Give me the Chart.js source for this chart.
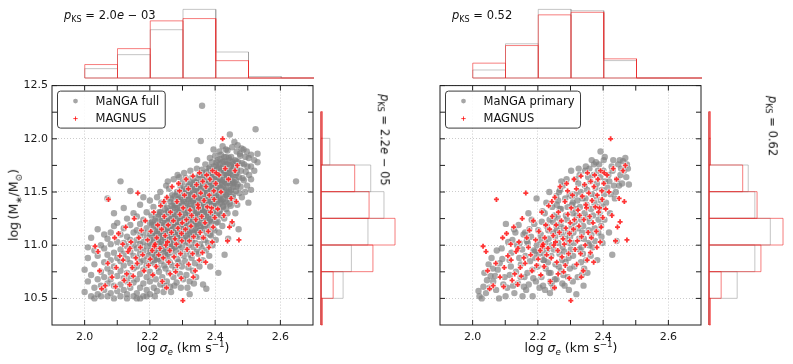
<!DOCTYPE html>
<html>
<head>
<meta charset="utf-8">
<script src="https://cdn.jsdelivr.net/npm/chart.js@4.4.1/dist/chart.umd.min.js"></script>
<style>
  html, body { margin: 0; padding: 0; background: #fff; }
  #fig { position: relative; width: 793px; height: 364px; overflow: hidden;
         font-family: 'DejaVu Sans', sans-serif; color: #111; }
  #fig canvas { position: absolute; }
  .lbl { position: absolute; white-space: nowrap; line-height: 1; font-size: 12.5px; }
  .lbl sub, .lbl sup { font-size: 70%; line-height: 0; }
  .it { font-style: italic; }
  .pks { font-size: 11.5px; }
</style>
</head>
<body>
<div id="fig">
  <canvas id="histTopL" width="320" height="80" style="left:0;top:0"></canvas>
  <canvas id="histTopR" width="308" height="80" style="left:400px;top:0"></canvas>
  <canvas id="mainL" width="320" height="289" style="left:0;top:75px"></canvas>
  <canvas id="mainR" width="308" height="289" style="left:400px;top:75px"></canvas>
  <canvas id="histSideL" width="84" height="289" style="left:316px;top:75px"></canvas>
  <canvas id="histSideR" width="84" height="289" style="left:704px;top:75px"></canvas>

  <div class="lbl" style="left:14px;top:205px;transform:translate(-50%,-50%) rotate(-90deg)">log&thinsp;(M<sub>∗</sub>/M<sub>⊙</sub>)</div>
  <div class="lbl" style="left:183px;top:348px;transform:translate(-50%,-50%)">log <span class="it">σ</span><sub class="it">e</sub> (km s<sup>−1</sup>)</div>
  <div class="lbl" style="left:571px;top:348px;transform:translate(-50%,-50%)">log <span class="it">σ</span><sub class="it">e</sub> (km s<sup>−1</sup>)</div>

  <div class="lbl pks" style="left:64px;top:10px"><span class="it">p</span><sub>KS</sub> = 2.0<span class="it">e</span> − 03</div>
  <div class="lbl pks" style="left:452px;top:10px"><span class="it">p</span><sub>KS</sub> = 0.52</div>
  <div class="lbl pks" style="left:384px;top:140px;transform:translate(-50%,-50%) rotate(90deg)"><span class="it">p</span><sub>KS</sub> = 2.2<span class="it">e</span> − 05</div>
  <div class="lbl pks" style="left:772px;top:126px;transform:translate(-50%,-50%) rotate(90deg)"><span class="it">p</span><sub>KS</sub> = 0.62</div>
</div>

<script>
// ---------- data ----------
// axis ticks
const xTickVals = [2.0, 2.1, 2.2, 2.3, 2.4, 2.5, 2.6];
const yTickVals = [10.5, 10.75, 11.0, 11.25, 11.5, 11.75, 12.0, 12.25, 12.5];

// histogram bin edges
const sigmaEdges = [2.0, 2.1, 2.2, 2.3, 2.4, 2.5, 2.6, 2.7];
const massEdges = [10.25, 10.5, 10.75, 11.0, 11.25, 11.5, 11.75, 12.0, 12.25];

// normalised histograms (density)
const fullSigmaHist = [0.53, 1.32, 2.73, 3.88, 1.47, 0.08, 0];
const primarySigmaHist = [0.41, 1.75, 3.51, 3.44, 0.89, 0, 0];
const magnusSigmaHist = [0.76, 1.66, 3.23, 3.36, 0.98, 0, 0];
const fullMassHist = [0, 0.40, 0.55, 0.85, 1.14, 0.90, 0.16, 0.004];
const primaryMassHist = [0, 0.51, 0.83, 1.11, 0.83, 0.71, 0.02, 0];
const magnusMassHist = [0.027, 0.22, 0.94, 1.34, 0.87, 0.61, 0.027, 0.027];

// scatter: [log sigma_e, log M*] -- full MaNGA sample, outskirts
const mangaFull = [
  [2.00,10.56],[2.00,10.77],[2.01,10.66],[2.01,10.88],[2.02,10.52],[2.02,11.07],[2.02,10.72],[2.03,10.60],[2.03,10.95],[2.03,10.82],
  [2.04,10.54],[2.04,10.68],[2.04,11.15],[2.04,10.90],[2.05,10.62],[2.05,10.75],[2.05,11.00],[2.01,10.98],[2.03,10.50],[2.05,10.52],
  [2.06,10.58],[2.06,10.70],[2.06,10.84],[2.06,10.97],[2.07,10.52],[2.07,10.64],[2.07,10.78],[2.07,10.91],[2.07,11.06],[2.07,11.44],
  [2.08,10.55],[2.08,10.68],[2.08,10.74],[2.08,10.86],[2.08,11.01],[2.08,11.12],[2.09,10.50],[2.09,10.62],[2.09,10.80],[2.09,10.93],
  [2.09,11.18],[2.10,10.57],[2.10,10.71],[2.10,10.88],[2.10,11.03],[2.10,11.21],[2.06,11.10],[2.09,11.30],
  [2.11,10.52],[2.11,10.63],[2.11,10.76],[2.11,10.85],[2.11,10.96],[2.11,11.10],[2.11,11.60],[2.12,10.58],[2.12,10.69],[2.12,10.81],
  [2.12,10.92],[2.12,11.02],[2.12,11.16],[2.13,10.54],[2.13,10.66],[2.13,10.74],[2.13,10.87],[2.13,10.99],[2.13,11.08],[2.13,11.25],
  [2.14,10.60],[2.14,10.71],[2.14,10.83],[2.14,10.94],[2.14,11.05],[2.14,11.19],[2.14,11.51],[2.15,10.52],[2.15,10.65],[2.15,10.78],
  [2.15,10.90],[2.15,11.00],[2.15,11.12],[2.15,11.30],[2.12,11.35],[2.13,10.50],
  [2.16,10.55],[2.16,10.68],[2.16,10.80],[2.16,10.88],[2.16,10.97],[2.16,11.05],[2.16,11.14],[2.16,11.27],[2.17,10.60],[2.17,10.73],
  [2.17,10.84],[2.17,10.92],[2.17,11.01],[2.17,11.09],[2.17,11.20],[2.17,11.38],[2.18,10.52],[2.18,10.64],[2.18,10.77],[2.18,10.86],
  [2.18,10.95],[2.18,11.03],[2.18,11.12],[2.18,11.24],[2.19,10.58],[2.19,10.70],[2.19,10.81],[2.19,10.90],[2.19,10.99],[2.19,11.07],
  [2.19,11.16],[2.19,11.31],[2.20,10.54],[2.20,10.66],[2.20,10.75],[2.20,10.85],[2.20,10.94],[2.20,11.02],[2.20,11.11],[2.20,11.21],
  [2.20,11.42],[2.16,10.50],[2.18,11.45],[2.17,10.50],[2.19,10.52],
  [2.212,10.60],[2.208,10.72],[2.211,10.83],[2.206,10.91],[2.213,10.98],[2.209,11.05],[2.214,11.13],[2.207,11.22],[2.211,11.36],
  [2.222,10.57],[2.218,10.68],[2.224,10.79],[2.217,10.88],[2.221,10.95],[2.226,11.02],[2.219,11.09],[2.223,11.17],[2.218,11.27],[2.222,11.45],
  [2.232,10.63],[2.228,10.75],[2.234,10.85],[2.229,10.92],[2.233,10.99],[2.227,11.06],[2.231,11.13],[2.236,11.21],[2.229,11.31],[2.232,11.50],
  [2.242,10.56],[2.238,10.70],[2.244,10.81],[2.239,10.89],[2.243,10.96],[2.237,11.03],[2.241,11.10],[2.246,11.18],[2.239,11.26],[2.242,11.39],
  [2.252,10.66],[2.248,10.78],[2.254,10.87],[2.249,10.94],[2.253,11.00],[2.247,11.07],[2.251,11.14],[2.256,11.22],[2.249,11.30],[2.252,11.44],
  [2.250,11.56],[2.215,10.52],[2.235,11.40],[2.245,10.62],[2.205,11.28],
  [2.262,10.61],[2.258,10.74],[2.261,10.84],[2.256,10.92],[2.263,10.99],[2.259,11.05],[2.264,11.11],[2.257,11.17],[2.261,11.24],[2.258,11.32],
  [2.263,11.41],[2.259,11.53],[2.272,10.70],[2.268,10.81],[2.274,10.90],[2.269,10.97],[2.273,11.03],[2.267,11.09],[2.271,11.15],[2.276,11.21],
  [2.269,11.28],[2.272,11.35],[2.268,11.47],[2.273,11.62],[2.282,10.65],[2.278,10.77],[2.284,10.87],[2.279,10.95],[2.283,11.01],[2.277,11.07],
  [2.281,11.13],[2.286,11.19],[2.279,11.25],[2.282,11.31],[2.278,11.38],[2.283,11.50],[2.292,10.73],[2.288,10.84],[2.294,10.93],[2.289,11.00],
  [2.293,11.06],[2.287,11.12],[2.291,11.18],[2.296,11.24],[2.289,11.30],[2.292,11.36],[2.288,11.43],[2.293,11.56],[2.290,11.64],
  [2.302,10.68],[2.298,10.80],[2.304,10.90],[2.299,10.98],[2.303,11.04],[2.297,11.10],[2.301,11.16],[2.306,11.22],[2.299,11.28],[2.302,11.34],
  [2.298,11.40],[2.303,11.47],[2.300,11.59],[2.265,10.56],[2.285,11.66],[2.275,10.62],[2.295,10.60],[2.255,11.60],
  [2.312,10.72],[2.308,10.85],[2.314,10.95],[2.309,11.03],[2.313,11.09],[2.307,11.15],[2.311,11.21],[2.316,11.27],[2.309,11.33],[2.312,11.39],
  [2.308,11.45],[2.313,11.52],[2.310,11.63],[2.322,10.66],[2.318,10.79],[2.324,10.91],[2.319,11.00],[2.323,11.07],[2.317,11.13],[2.321,11.19],
  [2.326,11.25],[2.319,11.31],[2.322,11.37],[2.318,11.43],[2.323,11.49],[2.320,11.57],[2.324,11.70],[2.332,10.76],[2.328,10.88],[2.334,10.98],
  [2.329,11.05],[2.333,11.11],[2.327,11.17],[2.331,11.23],[2.336,11.29],[2.329,11.35],[2.332,11.41],[2.328,11.47],[2.333,11.54],[2.330,11.64],
  [2.342,10.70],[2.338,10.83],[2.344,10.94],[2.339,11.02],[2.343,11.09],[2.337,11.15],[2.341,11.21],[2.346,11.27],[2.339,11.33],[2.342,11.39],
  [2.338,11.45],[2.343,11.51],[2.340,11.59],[2.344,11.72],[2.352,10.80],[2.348,10.92],[2.354,11.01],[2.349,11.08],[2.353,11.14],[2.347,11.20],
  [2.351,11.26],[2.356,11.32],[2.349,11.38],[2.352,11.44],[2.348,11.50],[2.353,11.56],[2.350,11.66],[2.322,10.54],[2.305,11.68],[2.345,11.80],
  [2.315,10.60],[2.335,10.64],
  [2.362,10.86],[2.358,10.98],[2.364,11.07],[2.359,11.14],[2.363,11.20],[2.357,11.26],[2.361,11.32],[2.366,11.38],[2.359,11.44],[2.362,11.50],
  [2.358,11.56],[2.363,11.62],[2.360,11.71],[2.356,11.98],[2.360,12.31],[2.372,10.95],[2.368,11.05],[2.374,11.12],[2.369,11.18],[2.373,11.24],
  [2.367,11.30],[2.371,11.36],[2.376,11.42],[2.369,11.48],[2.372,11.54],[2.368,11.60],[2.373,11.66],[2.370,11.76],[2.373,10.59],
  [2.382,10.90],[2.378,11.02],[2.384,11.10],[2.379,11.17],[2.383,11.23],[2.377,11.29],[2.381,11.35],[2.386,11.41],[2.379,11.47],[2.382,11.53],
  [2.378,11.59],[2.383,11.65],[2.380,11.72],[2.384,11.82],[2.392,11.00],[2.388,11.09],[2.394,11.16],[2.389,11.22],[2.393,11.28],[2.387,11.34],
  [2.391,11.40],[2.396,11.46],[2.389,11.52],[2.392,11.58],[2.388,11.64],[2.393,11.70],[2.390,11.78],[2.402,11.05],[2.398,11.14],[2.404,11.21],
  [2.399,11.27],[2.403,11.33],[2.397,11.39],[2.401,11.45],[2.406,11.51],[2.399,11.57],[2.402,11.63],[2.398,11.69],[2.403,11.75],[2.400,11.84],
  [2.363,10.63],[2.410,10.74],[2.385,10.80],[2.395,11.90],
  [2.412,11.12],[2.408,11.22],[2.414,11.30],[2.409,11.37],[2.413,11.43],[2.407,11.49],[2.411,11.55],[2.416,11.61],[2.409,11.67],[2.412,11.73],
  [2.408,11.80],[2.413,11.88],[2.422,11.18],[2.418,11.28],[2.424,11.36],[2.419,11.42],[2.423,11.48],[2.417,11.54],[2.421,11.60],[2.426,11.66],
  [2.419,11.72],[2.422,11.78],[2.418,11.85],[2.423,11.93],[2.429,10.91],[2.428,11.25],[2.434,11.34],[2.429,11.41],[2.433,11.47],[2.427,11.53],
  [2.431,11.59],[2.436,11.65],[2.429,11.71],[2.432,11.77],[2.428,11.83],[2.433,11.90],[2.440,11.06],[2.438,11.30],[2.444,11.39],[2.439,11.46],
  [2.443,11.52],[2.437,11.58],[2.441,11.64],[2.446,11.70],[2.439,11.76],[2.442,11.82],[2.438,11.89],[2.445,12.04],[2.452,11.20],[2.448,11.37],
  [2.454,11.45],[2.449,11.52],[2.453,11.58],[2.447,11.64],[2.451,11.70],[2.456,11.76],[2.449,11.83],[2.452,11.92],
  [2.462,11.30],[2.458,11.42],[2.464,11.51],[2.459,11.59],[2.463,11.66],[2.457,11.73],[2.461,11.80],[2.466,11.88],[2.459,11.97],
  [2.472,11.15],[2.468,11.38],[2.474,11.49],[2.469,11.57],[2.473,11.64],[2.467,11.71],[2.471,11.78],[2.476,11.86],[2.469,11.94],
  [2.482,11.45],[2.478,11.55],[2.484,11.63],[2.479,11.70],[2.483,11.77],[2.477,11.84],[2.481,11.91],
  [2.492,11.50],[2.488,11.61],[2.494,11.69],[2.489,11.76],[2.493,11.83],[2.487,11.90],
  [2.502,11.40],[2.498,11.56],[2.504,11.66],[2.499,11.74],[2.503,11.82],[2.497,11.88],
  [2.51,11.62],[2.51,11.74],[2.51,11.85],[2.52,11.70],[2.52,11.80],[2.524,12.09],[2.53,11.78],[2.53,11.86],[2.51,11.52],[2.648,11.60]
];

// full MaNGA sample, the crowded ridge of the relation
const mangaFullCore = [
  [2.205,10.88],[2.204,10.95],[2.206,11.00],[2.203,11.07],[2.205,11.12],[2.207,11.19],
  [2.215,10.86],[2.216,10.93],[2.214,10.99],[2.215,11.04],[2.217,11.11],[2.213,11.18],[2.216,11.23],
  [2.225,10.87],[2.224,10.92],[2.227,10.99],[2.225,11.04],[2.223,11.10],[2.226,11.15],[2.224,11.22],[2.226,11.29],
  [2.235,10.89],[2.236,10.96],[2.233,11.01],[2.235,11.08],[2.237,11.13],[2.234,11.19],[2.236,11.26],[2.233,11.31],
  [2.245,10.90],[2.244,10.97],[2.246,11.04],[2.243,11.09],[2.245,11.15],[2.247,11.22],[2.244,11.27],[2.246,11.34],
  [2.255,10.93],[2.256,11.00],[2.254,11.05],[2.255,11.12],[2.257,11.17],[2.253,11.23],[2.256,11.30],[2.254,11.35],
  [2.265,10.96],[2.264,11.01],[2.266,11.08],[2.263,11.13],[2.265,11.19],[2.267,11.26],[2.264,11.31],[2.266,11.37],[2.264,11.44],
  [2.275,10.98],[2.276,11.05],[2.274,11.10],[2.275,11.17],[2.277,11.22],[2.273,11.28],[2.276,11.35],[2.274,11.40],[2.276,11.46],
  [2.285,11.00],[2.284,11.07],[2.286,11.12],[2.283,11.18],[2.285,11.25],[2.287,11.30],[2.284,11.36],[2.286,11.43],[2.284,11.48],
  [2.295,11.04],[2.296,11.09],[2.294,11.15],[2.295,11.22],[2.297,11.27],[2.293,11.33],[2.296,11.40],[2.294,11.45],[2.296,11.52],
  [2.305,11.05],[2.304,11.12],[2.306,11.17],[2.303,11.23],[2.305,11.30],[2.307,11.35],[2.304,11.41],[2.306,11.48],[2.304,11.53],
  [2.315,11.07],[2.316,11.14],[2.314,11.19],[2.315,11.25],[2.317,11.32],[2.313,11.37],[2.316,11.43],[2.314,11.50],[2.316,11.55],
  [2.325,11.10],[2.324,11.16],[2.326,11.23],[2.323,11.28],[2.325,11.34],[2.327,11.41],[2.324,11.46],[2.326,11.52],[2.324,11.59],
  [2.335,11.12],[2.336,11.19],[2.334,11.24],[2.335,11.30],[2.337,11.37],[2.333,11.42],[2.336,11.48],[2.334,11.55],[2.336,11.60],
  [2.345,11.14],[2.344,11.20],[2.346,11.27],[2.343,11.32],[2.345,11.38],[2.347,11.45],[2.344,11.50],[2.346,11.56],[2.344,11.63],
  [2.355,11.17],[2.356,11.23],[2.354,11.30],[2.355,11.35],[2.357,11.41],[2.353,11.48],[2.356,11.53],[2.354,11.59],[2.356,11.66],
  [2.365,11.19],[2.364,11.25],[2.366,11.32],[2.363,11.37],[2.365,11.43],[2.367,11.50],[2.364,11.55],[2.366,11.61],[2.364,11.68],
  [2.375,11.21],[2.376,11.28],[2.374,11.33],[2.375,11.39],[2.377,11.46],[2.373,11.51],[2.376,11.57],[2.374,11.64],[2.376,11.69],
  [2.385,11.24],[2.384,11.30],[2.386,11.37],[2.383,11.42],[2.385,11.48],[2.387,11.55],[2.384,11.60],[2.386,11.66],[2.384,11.73],
  [2.395,11.26],[2.396,11.33],[2.394,11.38],[2.395,11.44],[2.397,11.51],[2.393,11.56],[2.396,11.62],[2.394,11.69],[2.396,11.74],
  [2.405,11.29],[2.404,11.35],[2.406,11.42],[2.403,11.47],[2.405,11.53],[2.407,11.60],[2.404,11.65],[2.406,11.71],[2.404,11.78],
  [2.415,11.33],[2.416,11.40],[2.414,11.45],[2.415,11.51],[2.417,11.58],[2.413,11.63],[2.416,11.69],[2.414,11.76],[2.416,11.81],
  [2.425,11.37],[2.424,11.43],[2.426,11.50],[2.423,11.55],[2.425,11.61],[2.427,11.68],[2.424,11.73],[2.426,11.79],
  [2.435,11.40],[2.436,11.47],[2.434,11.52],[2.435,11.58],[2.437,11.65],[2.433,11.70],[2.436,11.76],[2.434,11.83],
  [2.445,11.44],[2.444,11.50],[2.446,11.57],[2.443,11.62],[2.445,11.68],[2.447,11.75],[2.444,11.80],
  [2.455,11.48],[2.456,11.55],[2.454,11.60],[2.455,11.66],[2.457,11.73],[2.453,11.78],
  [2.465,11.55],[2.464,11.61],[2.466,11.68],[2.463,11.73],[2.465,11.79]
];

// MaNGA primary sample
const mangaPrimary = [
  [2.021,10.52],[2.028,10.50],[2.033,10.61],[2.018,10.57],[2.044,10.67],[2.052,10.60],[2.036,10.74],[2.049,10.82],[2.041,10.55],[2.055,10.71],
  [2.063,10.66],[2.072,10.58],[2.081,10.50],[2.069,10.71],[2.083,10.83],[2.058,10.88],[2.094,10.63],[2.101,10.52],[2.089,10.97],[2.102,11.20],
  [2.077,10.77],[2.098,10.70],[2.074,10.95],[2.091,10.87],[2.062,10.78],[2.106,10.60],
  [2.113,10.86],[2.109,11.03],[2.124,10.62],[2.119,10.93],[2.127,11.15],[2.133,10.75],[2.128,10.55],[2.136,11.00],[2.143,10.88],[2.139,10.64],
  [2.147,10.70],[2.152,10.96],[2.148,10.82],[2.156,11.10],[2.122,11.05],[2.114,10.72],[2.131,11.12],[2.144,11.02],[2.153,10.52],[2.117,10.80],
  [2.157,10.61],[2.141,11.19],
  [2.162,10.90],[2.166,11.04],[2.159,10.70],[2.172,10.63],[2.176,10.85],[2.169,11.02],[2.174,11.15],[2.183,10.77],[2.187,10.95],[2.179,11.08],
  [2.184,10.52],[2.192,10.88],[2.197,11.00],[2.189,11.20],[2.194,10.66],[2.196,11.44],[2.203,10.92],[2.207,11.05],[2.199,10.80],[2.205,10.60],
  [2.161,11.12],[2.181,11.24],[2.168,10.74],[2.191,10.94],[2.164,10.58],[2.201,11.14],[2.186,10.69],[2.171,11.30],
  [2.213,10.98],[2.209,11.10],[2.217,10.86],[2.211,10.70],[2.216,10.62],[2.223,11.02],[2.227,11.18],[2.219,10.92],[2.224,10.78],[2.221,11.30],
  [2.233,11.06],[2.229,10.96],[2.236,11.24],[2.231,10.84],[2.238,10.66],[2.237,10.55],[2.243,11.00],[2.247,11.12],[2.241,10.90],[2.244,11.36],
  [2.239,10.74],[2.253,11.08],[2.257,11.18],[2.249,10.96],[2.254,10.82],[2.251,11.28],[2.256,11.46],[2.222,10.58],[2.232,11.14],[2.212,11.22],
  [2.246,11.22],[2.252,10.68],[2.226,11.40],[2.234,10.74],[2.214,11.32],[2.258,11.38],[2.242,10.64],[2.235,11.50],[2.218,10.86],[2.248,10.60],
  [2.263,11.02],[2.259,11.14],[2.266,10.92],[2.261,11.26],[2.264,10.80],[2.262,11.42],[2.273,11.10],[2.269,11.20],[2.276,10.98],[2.271,11.34],
  [2.274,10.86],[2.268,11.52],[2.283,11.06],[2.279,11.16],[2.286,11.28],[2.281,10.94],[2.284,11.44],[2.278,10.72],[2.293,11.12],[2.289,11.24],
  [2.296,11.02],[2.291,11.36],[2.294,10.88],[2.288,11.62],[2.303,11.18],[2.299,11.08],[2.306,11.30],[2.301,10.96],[2.304,11.46],[2.298,10.78],
  [2.302,11.70],[2.282,10.62],[2.257,10.68],[2.272,11.60],[2.292,10.70],[2.307,10.66],[2.277,11.56],[2.267,11.34],[2.271,10.76],[2.297,11.48],
  [2.285,10.84],[2.305,11.38],[2.265,11.50],[2.295,10.58],[2.275,10.64],
  [2.313,11.22],[2.309,11.12],[2.316,11.34],[2.311,11.02],[2.314,11.48],[2.308,10.90],[2.323,11.16],[2.319,11.28],[2.326,11.06],[2.321,11.42],
  [2.318,10.54],[2.324,11.58],[2.333,11.24],[2.329,11.36],[2.336,11.12],[2.331,11.50],[2.334,10.98],[2.328,11.66],[2.343,11.30],[2.339,11.18],
  [2.346,11.44],[2.341,11.06],[2.344,11.56],[2.338,10.92],[2.353,11.26],[2.349,11.38],[2.356,11.14],[2.351,11.52],[2.354,11.64],[2.348,10.86],
  [2.352,10.74],[2.312,10.80],[2.322,10.70],[2.332,10.84],[2.342,10.78],[2.325,11.72],[2.315,11.62],[2.335,10.72],[2.345,11.70],[2.355,11.02],
  [2.307,11.40],[2.327,10.96],[2.337,11.44],[2.347,11.74],[2.340,10.62],
  [2.363,11.34],[2.359,11.22],[2.366,11.48],[2.361,11.60],[2.364,11.10],[2.358,11.72],[2.373,11.40],[2.369,11.28],[2.376,11.54],[2.371,11.66],
  [2.374,11.16],[2.368,10.98],[2.383,11.36],[2.379,11.46],[2.386,11.24],[2.381,11.58],[2.384,11.70],[2.378,11.78],[2.393,11.42],[2.389,11.30],
  [2.396,11.52],[2.391,11.64],[2.394,11.18],[2.388,11.76],[2.403,11.48],[2.399,11.36],[2.406,11.60],[2.401,11.70],[2.404,11.24],[2.398,11.02],
  [2.365,11.80],[2.375,11.04],[2.385,11.12],[2.395,11.08],[2.402,11.80],[2.362,10.90],[2.382,10.86],[2.372,11.76],[2.392,11.88],[2.357,11.00],
  [2.405,11.83],[2.413,11.54],[2.409,11.40],[2.416,11.66],[2.423,11.48],[2.419,11.60],[2.426,11.74],[2.421,11.30],[2.428,10.91],[2.433,11.56],
  [2.429,11.70],[2.436,11.44],[2.431,11.80],[2.443,11.62],[2.439,11.50],[2.446,11.76],[2.453,11.66],[2.449,11.56],[2.451,11.80],[2.441,11.04],
  [2.418,11.12],[2.455,11.72],
  [2.461,11.79],[2.464,11.70],[2.471,11.64],[2.468,11.82],[2.479,11.57],[2.476,11.72],[2.458,11.58],[2.473,11.76]
];

// MAGNUS sample (same in both panels)
const magnus = [
  [2.032,10.99],[2.041,10.94],[2.046,10.76],[2.052,10.59],[2.063,10.62],[2.073,11.43],[2.071,10.83],[2.084,10.70],[2.092,11.07],[2.097,10.79],
  [2.095,10.61],
  [2.104,11.11],[2.108,10.90],[2.117,11.01],[2.121,10.67],[2.118,10.86],[2.126,11.17],[2.133,10.94],[2.129,10.73],[2.138,10.63],[2.142,11.03],
  [2.146,10.79],[2.139,10.97],[2.152,11.25],[2.157,10.88],[2.149,10.71],[2.163,11.49],[2.166,11.07],[2.161,10.83],[2.174,11.14],[2.171,10.98],
  [2.182,10.76],[2.186,11.23],[2.178,10.91],[2.193,11.05],[2.196,10.81],
  [2.203,11.13],[2.207,10.95],[2.201,10.87],[2.212,11.31],[2.216,11.01],[2.209,10.72],[2.224,11.19],[2.221,11.07],[2.227,10.91],[2.219,10.80],
  [2.233,11.37],[2.236,11.15],[2.231,10.97],[2.238,10.66],[2.244,11.27],[2.247,11.09],[2.241,10.88],[2.249,11.00],[2.252,11.45],[2.256,11.19],
  [2.254,11.03],[2.258,10.84],[2.251,10.60],[2.263,11.31],[2.266,11.12],[2.261,10.95],[2.268,11.55],[2.272,11.23],[2.277,11.06],[2.274,10.89],
  [2.279,10.75],[2.283,11.41],[2.286,11.16],[2.281,11.01],[2.288,11.58],[2.284,10.81],[2.292,11.29],[2.297,11.11],[2.294,10.92],[2.291,11.51],
  [2.296,10.69],[2.302,11.35],[2.299,11.21],[2.298,11.04],[2.301,10.48],[2.262,10.73],[2.243,11.41],[2.214,10.99],
  [2.306,11.47],[2.312,11.24],[2.309,11.15],[2.314,10.96],[2.311,11.62],[2.318,11.53],[2.323,11.33],[2.326,11.18],[2.321,11.04],[2.319,10.82],
  [2.332,11.65],[2.336,11.46],[2.328,11.28],[2.334,11.08],[2.331,10.92],[2.343,11.57],[2.347,11.38],[2.341,11.24],[2.345,11.00],[2.339,10.76],
  [2.352,11.68],[2.356,11.49],[2.349,11.35],[2.354,11.12],[2.351,10.86],[2.362,11.60],[2.366,11.42],[2.359,11.27],[2.364,11.07],[2.361,10.93],
  [2.372,11.55],[2.376,11.36],[2.369,11.21],[2.374,11.66],[2.371,10.84],[2.382,11.47],[2.386,11.31],[2.379,11.13],[2.384,11.62],[2.381,10.98],
  [2.392,11.70],[2.396,11.51],[2.389,11.35],[2.394,11.17],[2.391,11.03],[2.402,11.58],[2.397,11.43],[2.399,11.26],[2.403,11.68],[2.333,10.70],
  [2.412,11.66],[2.408,11.34],[2.423,12.00],[2.418,11.50],[2.431,11.72],[2.427,11.28],[2.441,11.62],[2.444,11.17],[2.438,11.04],[2.452,11.22],
  [2.449,11.44],[2.461,11.70],[2.468,11.75],[2.465,11.41],[2.473,11.05]
];

// ---------- helpers ----------
Chart.defaults.font.family = "'DejaVu Sans', sans-serif";
const FONT = { family: "'DejaVu Sans', sans-serif", size: 11 };
const TICK_LEN = 5;

const toXY = arr => arr.map(p => ({ x: p[0], y: p[1] }));
const isMajorX = v => Math.round(v * 10) % 2 === 0;
const isMajorY = v => Math.round(v * 4) % 2 === 0;

// outline of an unfilled bar histogram: every bar edge plus the baseline
function histOutline(edges, heights, horizontal) {
  const pts = [[edges[0], 0]];
  heights.forEach((h, i) => {
    pts.push([edges[i], h], [edges[i + 1], h], [edges[i + 1], 0]);
  });
  pts.push([edges[0], 0]);
  return pts.map(p => horizontal ? { x: p[1], y: p[0] } : { x: p[0], y: p[1] });
}

// box + inward ticks on all four sides
const framePlugin = {
  id: 'frame',
  afterDraw(chart) {
    const { ctx, chartArea: a, scales: { x, y } } = chart;
    ctx.save();
    ctx.strokeStyle = '#1f1f1f';
    ctx.lineWidth = 1;
    ctx.strokeRect(a.left, a.top, a.width, a.height);
    ctx.beginPath();
    xTickVals.forEach(v => {
      const px = x.getPixelForValue(v);
      ctx.moveTo(px, a.bottom); ctx.lineTo(px, a.bottom - TICK_LEN);
      ctx.moveTo(px, a.top); ctx.lineTo(px, a.top + TICK_LEN);
    });
    yTickVals.forEach(v => {
      const py = y.getPixelForValue(v);
      ctx.moveTo(a.left, py); ctx.lineTo(a.left + TICK_LEN, py);
      ctx.moveTo(a.right, py); ctx.lineTo(a.right - TICK_LEN, py);
    });
    ctx.stroke();
    ctx.restore();
  }
};

// framed legend in the upper-left corner of the axes
const boxLegend = {
  id: 'boxLegend',
  afterDraw(chart, args, opts) {
    const { ctx, chartArea: a } = chart;
    const items = opts.items || [];
    ctx.save();
    ctx.font = "11.5px 'DejaVu Sans'";
    const textW = Math.max(...items.map(it => ctx.measureText(it.text).width));
    const bx = a.left + 5.5, by = a.top + 5.5;
    const bw = 38 + textW + 6, bh = 37;
    ctx.beginPath();
    ctx.roundRect(bx, by, bw, bh, 3);
    ctx.fillStyle = 'rgba(255,255,255,0.85)';
    ctx.fill();
    ctx.strokeStyle = '#3c3c3c';
    ctx.lineWidth = 1;
    ctx.stroke();
    items.forEach((it, i) => {
      const cy = by + 10 + i * 17.5;
      const mx = bx + 18;
      ctx.fillStyle = it.fill || 'transparent';
      ctx.strokeStyle = it.stroke || 'transparent';
      Chart.helpers.drawPoint(ctx, { pointStyle: it.style, radius: it.radius, borderWidth: it.bw, rotation: 0 }, mx, cy);
      ctx.fillStyle = '#111';
      ctx.textBaseline = 'middle';
      ctx.fillText(it.text, bx + 38, cy + 0.5);
    });
    ctx.restore();
  }
};

function mainChart(id, grayPts, grayLabel, showYLabels, yAxisWidth) {
  return new Chart(document.getElementById(id), {
    type: 'scatter',
    data: {
      datasets: [
        { label: 'MAGNUS', data: toXY(magnus), pointStyle: 'cross', pointRadius: 2.5,
          borderWidth: 1.8, borderColor: 'rgba(255,10,10,0.82)', backgroundColor: 'rgba(255,10,10,0.82)' },
        { label: 'edge', data: toXY(magnus), pointStyle: 'cross', pointRadius: 3.2,
          borderWidth: 3.0, borderColor: 'rgba(255,255,255,0.75)', backgroundColor: 'rgba(255,255,255,0.75)' },
        { label: grayLabel, data: toXY(grayPts), pointRadius: 3.2, borderWidth: 0,
          backgroundColor: 'rgba(128,128,128,0.68)' }
      ]
    },
    options: {
      responsive: false,
      animation: false,
      events: [],
      layout: { padding: { top: 10, right: 6, bottom: 0, left: 0 } },
      plugins: {
        legend: { display: false },
        tooltip: { enabled: false },
        boxLegend: {
          items: [
            { text: grayLabel, style: 'circle', radius: 2.4, bw: 0, fill: 'rgba(128,128,128,0.7)' },
            { text: 'MAGNUS', style: 'cross', radius: 2.2, bw: 1.6, stroke: 'rgba(255,0,0,0.75)' }
          ]
        }
      },
      scales: {
        x: {
          type: 'linear', min: 1.9, max: 2.7,
          afterBuildTicks: s => { s.ticks = xTickVals.map(v => ({ value: v })); },
          afterFit: s => { s.height = 39; },
          ticks: { callback: v => isMajorX(v) ? v.toFixed(1) : '', font: FONT, color: '#1a1a1a',
                   padding: 6, maxRotation: 0, autoSkip: false },
          grid: { drawTicks: false, lineWidth: 0.8,
                  color: c => (c.tick && isMajorX(c.tick.value)) ? 'rgba(170,170,170,0.75)' : 'rgba(0,0,0,0)' },
          border: { display: false, dash: [1, 2] }
        },
        y: {
          type: 'linear', min: 10.25, max: 12.5,
          afterBuildTicks: s => { s.ticks = yTickVals.map(v => ({ value: v })); },
          afterFit: s => { s.width = yAxisWidth; },
          ticks: { callback: v => (showYLabels && isMajorY(v)) ? v.toFixed(1) : '', font: FONT, color: '#1a1a1a',
                   padding: 4, autoSkip: false },
          grid: { drawTicks: false, lineWidth: 0.8,
                  color: c => (c.tick && isMajorY(c.tick.value)) ? 'rgba(170,170,170,0.75)' : 'rgba(0,0,0,0)' },
          border: { display: false, dash: [1, 2] }
        }
      }
    },
    plugins: [framePlugin, boxLegend]
  });
}

function histChart(id, grayHist, redHist, edges, horizontal, valueMax, padding) {
  const lineSet = (data, color) => ({
    data, showLine: true, pointRadius: 0, borderWidth: 1, borderColor: color,
    borderJoinStyle: 'miter', tension: 0, fill: false, clip: false
  });
  const valueAxis = { type: 'linear', display: false, min: 0, max: valueMax };
  const binAxis = { type: 'linear', display: false,
                    min: horizontal ? 10.25 : 1.9, max: horizontal ? 12.5 : 2.7 };
  return new Chart(document.getElementById(id), {
    type: 'scatter',
    data: {
      datasets: [
        lineSet(histOutline(edges, redHist, horizontal), 'rgba(240,40,40,0.6)'),
        lineSet(histOutline(edges, grayHist, horizontal), 'rgba(150,150,150,0.55)')
      ]
    },
    options: {
      responsive: false,
      animation: false,
      events: [],
      layout: { padding },
      plugins: { legend: { display: false }, tooltip: { enabled: false } },
      scales: horizontal ? { x: valueAxis, y: binAxis } : { x: binAxis, y: valueAxis }
    }
  });
}

// ---------- build ----------
mainChart('mainL', mangaFull.concat(mangaFullCore), 'MaNGA full', true, 52);
mainChart('mainR', mangaPrimary, 'MaNGA primary', false, 40);

histChart('histTopL', fullSigmaHist, magnusSigmaHist, sigmaEdges, false, 4.41,
          { left: 52, right: 6, top: 0, bottom: 2 });
histChart('histTopR', primarySigmaHist, magnusSigmaHist, sigmaEdges, false, 3.99,
          { left: 40, right: 6, top: 0, bottom: 2 });
histChart('histSideL', fullMassHist, magnusMassHist, massEdges, true, 1.43,
          { left: 5, right: 0, top: 10, bottom: 39 });
histChart('histSideR', primaryMassHist, magnusMassHist, massEdges, true, 1.43,
          { left: 5, right: 0, top: 10, bottom: 39 });
</script>
</body>
</html>
